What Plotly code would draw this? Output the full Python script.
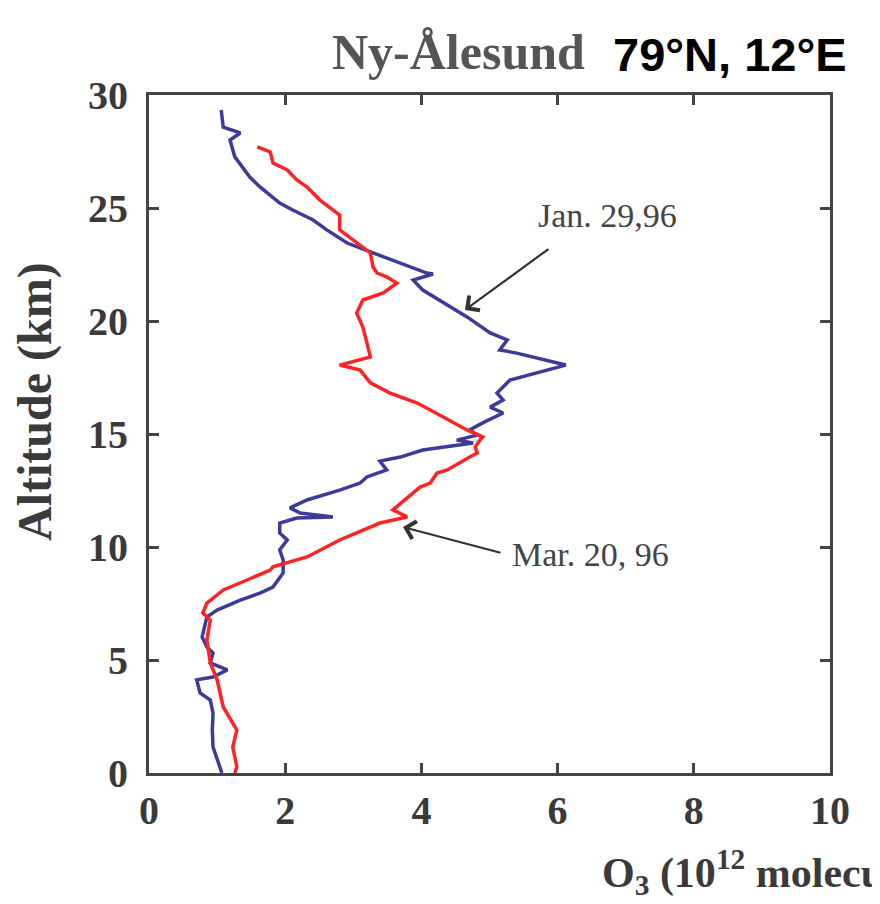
import plotly.graph_objects as go

# Jan. 29, 96 profile (O3 in 10^12 molecules cm^-3, altitude km)
jan_o3 = [1.06, 1.09, 1.34, 1.19, 1.26, 1.48, 1.63, 1.92, 2.11, 2.41, 2.61, 2.91, 3.29, 3.69,
          4.08, 4.17, 3.88, 4.02, 4.42, 4.67, 5.01, 5.26, 5.15, 5.40, 6.12, 5.70, 5.30, 5.11,
          5.20, 5.01, 5.20, 4.90, 4.71, 4.82, 4.52, 4.76, 4.02, 3.69, 3.39, 3.49, 3.20, 3.10,
          2.80, 2.32, 2.07, 2.22, 2.70, 2.17, 1.92, 1.92, 2.03, 1.92, 1.97, 1.97, 1.82, 1.63,
          1.34, 1.00, 0.85, 0.78, 0.85, 0.94, 0.90, 1.15, 0.94, 0.70, 0.75, 0.90, 0.94, 0.93,
          0.94, 1.04, 1.07]
jan_alt = [29.34, 28.58, 28.32, 28.01, 27.26, 26.37, 25.93, 25.22, 24.91, 24.47, 24.03, 23.45,
           23.01, 22.57, 22.12, 22.08, 21.81, 21.37, 20.62, 20.18, 19.47, 19.16, 18.72, 18.58,
           18.05, 17.70, 17.39, 16.81, 16.50, 16.19, 15.93, 15.49, 15.18, 14.95, 14.73, 14.60,
           14.29, 13.98, 13.80, 13.41, 13.10, 12.83, 12.52, 12.08, 11.73, 11.50, 11.33, 11.28,
           11.06, 10.62, 10.31, 9.87, 9.42, 8.85, 8.23, 7.96, 7.65, 7.21, 6.90, 6.02, 5.58,
           5.31, 4.87, 4.56, 4.25, 4.12, 3.54, 3.23, 2.65, 1.90, 1.15, 0.27, 0.0]

# Mar. 20, 96 profile
mar_o3 = [1.59, 1.78, 1.82, 2.03, 2.17, 2.32, 2.51, 2.70, 2.80, 2.80, 3.00, 3.25, 3.29, 3.35,
          3.49, 3.64, 3.44, 3.14, 3.05, 3.14, 3.20, 3.25, 2.80, 3.10, 3.25, 3.54, 3.94, 4.32,
          4.67, 4.90, 4.86, 4.79, 4.82, 4.71, 4.57, 4.38, 4.23, 4.13, 3.98, 3.69, 3.58, 3.79,
          3.39, 2.80, 2.32, 1.82, 1.78, 1.44, 1.09, 0.85, 0.79, 0.90, 0.85, 0.90, 1.00, 1.09,
          1.29, 1.23, 1.29, 1.26]
mar_alt = [27.70, 27.48, 26.99, 26.68, 26.24, 25.93, 25.35, 24.91, 24.69, 24.03, 23.58, 23.01,
           22.39, 22.12, 21.95, 21.68, 21.24, 20.93, 20.35, 19.73, 19.03, 18.41, 18.05, 17.83,
           17.26, 16.81, 16.37, 15.75, 15.18, 14.87, 14.73, 14.42, 14.16, 13.98, 13.72, 13.41,
           13.27, 12.83, 12.65, 11.95, 11.64, 11.33, 11.06, 10.31, 9.56, 9.12, 8.98, 8.54,
           8.10, 7.52, 7.08, 6.77, 5.88, 4.87, 4.12, 2.92, 1.90, 1.15, 0.27, 0.0]

x_ticks = [0, 2, 4, 6, 8, 10]
y_ticks = [0, 5, 10, 15, 20, 25, 30]

SERIF = "Liberation Serif"
AX = "#444444"

fig = go.Figure()
fig.add_trace(go.Scatter(x=jan_o3, y=jan_alt, mode="lines",
                         line=dict(color="#3c3a9a", width=3.5), name="Jan. 29,96"))
fig.add_trace(go.Scatter(x=mar_o3, y=mar_alt, mode="lines",
                         line=dict(color="#ff2424", width=3.5), name="Mar. 20, 96"))

axis_common = dict(showgrid=False, zeroline=False, showline=True, linecolor=AX, linewidth=3,
                   mirror="ticks", ticks="inside", ticklen=10, tickwidth=3, tickcolor=AX,
                   tickfont=dict(family=SERIF, size=40, color="#3a3a3a", weight="bold"))

# page body has an 8px margin, so the figure is offset by 8px on screen
fig.update_layout(
    width=880, height=904,
    margin=dict(l=141, r=58, t=87, b=139),
    paper_bgcolor="white", plot_bgcolor="white",
    showlegend=False,
    xaxis=dict(range=[0, 10], tickvals=x_ticks, ticktext=[str(v) for v in x_ticks],
               ticklabelstandoff=0, **axis_common),
    yaxis=dict(range=[0, 30], tickvals=y_ticks, ticktext=[str(v) for v in y_ticks],
               ticklabelstandoff=10, **axis_common),
)

def px(xp):
    return (xp - 149) / 681

def py(yp):
    return (773 - yp) / 678

annotations = [
    dict(text="Ny-Ålesund", xref="paper", yref="paper", x=px(587), y=py(52),
         xanchor="right", yanchor="middle", showarrow=False,
         font=dict(family=SERIF, size=50, color="#555555", weight="bold")),
    dict(text="79°N, 12°E", xref="paper", yref="paper", x=px(611), y=py(54),
         xanchor="left", yanchor="middle", showarrow=False,
         font=dict(family="Liberation Sans", size=47, color="black", weight="bold")),
    dict(text="Altitude (km)", xref="paper", yref="paper", x=px(35), y=py(402),
         xanchor="center", yanchor="middle", textangle=-90, showarrow=False,
         font=dict(family=SERIF, size=48, color="#3a3a3a", weight="bold")),
    dict(text="O<sub>3</sub> (10<sup>12</sup> molecules cm<sup>-3</sup>)", xref="paper", yref="paper",
         x=px(600), y=py(872), xanchor="left", yanchor="middle", showarrow=False,
         font=dict(family=SERIF, size=42, color="#3a3a3a", weight="bold")),
    dict(text="Jan. 29,96", xref="x", yref="y", x=6.73, y=24.69, xanchor="center",
         yanchor="middle", showarrow=False, font=dict(family=SERIF, size=34, color="#444444")),
    dict(text="Mar. 20, 96", xref="x", yref="y", x=6.48, y=9.65, xanchor="center",
         yanchor="middle", showarrow=False, font=dict(family=SERIF, size=34, color="#444444")),
    dict(text="", xref="x", yref="y", x=4.64, y=20.49, ax=85, ay=-62, showarrow=True,
         arrowhead=4, arrowsize=1.6, arrowwidth=2.2, arrowcolor="#333333"),
    dict(text="", xref="x", yref="y", x=3.73, y=10.88, ax=99, ay=26, showarrow=True,
         arrowhead=4, arrowsize=1.6, arrowwidth=2.2, arrowcolor="#333333"),
]
fig.update_layout(annotations=annotations)

fig.add_shape(type="line", xref="paper", yref="paper", x0=px(877), x1=px(877),
              y0=py(904), y1=py(0), line=dict(color="#c9ced9", width=2))

fig.write_html("out.html")
